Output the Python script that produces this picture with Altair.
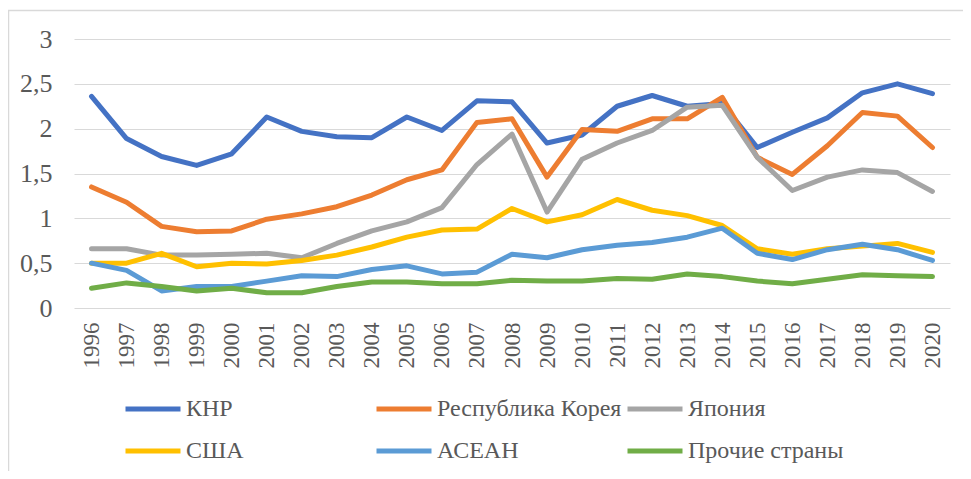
import altair as alt
import pandas as pd

years = [str(y) for y in range(1996, 2021)]
series_names = ["КНР", "Республика Корея", "Япония", "США", "АСЕАН", "Прочие страны"]
colors = ["#4472C4", "#ED7D31", "#A5A5A5", "#FFC000", "#5B9BD5", "#70AD47"]

knr = [2.36, 1.89, 1.69, 1.59, 1.72, 2.13, 1.97, 1.91, 1.90, 2.13, 1.98, 2.31, 2.30,
       1.84, 1.93, 2.25, 2.37, 2.25, 2.28, 1.79, 1.96, 2.12, 2.40, 2.50, 2.39]
korea = [1.35, 1.18, 0.91, 0.85, 0.86, 0.99, 1.05, 1.13, 1.26, 1.43, 1.54, 2.07, 2.11,
         1.46, 1.99, 1.97, 2.11, 2.11, 2.35, 1.68, 1.49, 1.81, 2.18, 2.14, 1.79]
japan = [0.66, 0.66, 0.59, 0.59, 0.60, 0.61, 0.56, 0.72, 0.86, 0.96, 1.12, 1.60, 1.94,
         1.07, 1.66, 1.84, 1.98, 2.24, 2.26, 1.68, 1.31, 1.46, 1.54, 1.51, 1.30]
usa = [0.50, 0.50, 0.61, 0.46, 0.50, 0.49, 0.53, 0.59, 0.68, 0.79, 0.87, 0.88, 1.11,
       0.96, 1.04, 1.21, 1.09, 1.03, 0.92, 0.66, 0.60, 0.66, 0.69, 0.72, 0.62]
asean = [0.50, 0.42, 0.19, 0.24, 0.24, 0.30, 0.36, 0.35, 0.43, 0.47, 0.38, 0.40, 0.60,
         0.56, 0.65, 0.70, 0.73, 0.79, 0.89, 0.61, 0.54, 0.65, 0.71, 0.65, 0.53]
other = [0.22, 0.28, 0.24, 0.19, 0.22, 0.17, 0.17, 0.24, 0.29, 0.29, 0.27, 0.27, 0.31,
         0.30, 0.30, 0.33, 0.32, 0.38, 0.35, 0.30, 0.27, 0.32, 0.37, 0.36, 0.35]

all_values = [knr, korea, japan, usa, asean, other]

rows = []
for order, (name, vals) in enumerate(zip(series_names, all_values)):
    for y, v in zip(years, vals):
        rows.append({"year": y, "value": v, "series": name, "order": order})
df = pd.DataFrame(rows)

FONT = "Liberation Serif"
TXT = "#595959"

lines = alt.Chart(df).mark_line(strokeWidth=5, strokeCap="round", strokeJoin="round").encode(
    x=alt.X("year:O", sort=years, scale=alt.Scale(padding=0.5),
            axis=alt.Axis(title=None, labelAngle=270, labelPadding=14, ticks=False, domain=False,
                          labelFont=FONT, labelFontSize=23, labelColor=TXT, grid=False)),
    y=alt.Y("value:Q", scale=alt.Scale(domain=[0, 3], nice=False),
            axis=alt.Axis(title=None, values=[0, 0.5, 1, 1.5, 2, 2.5, 3], ticks=False, domain=False,
                          labelFont=FONT, labelFontSize=26, labelColor=TXT, labelPadding=22,
                          gridColor="#d9d9d9", gridWidth=1.2,
                          labelExpr="replace(format(datum.value, '~g'), '.', ',')")),
    color=alt.Color("series:N", sort=series_names,
                    scale=alt.Scale(domain=series_names, range=colors),
                    legend=alt.Legend(title=None, orient="none", legendX=49, legendY=340,
                                      direction="horizontal", columns=3, gridAlign="all",
                                      symbolType="stroke", symbolSize=3025, symbolStrokeWidth=5,
                                      labelFont=FONT, labelFontSize=24, labelColor=TXT,
                                      labelOffset=3, columnPadding=-5, rowPadding=-13,
                                      labelLimit=400)),
    order=alt.Order("order:Q"),
    detail="series:N",
)

border = alt.Chart(pd.DataFrame({"a": [0]})).mark_rect(
    fill=None, stroke="#d9d9d9", strokeWidth=1.5
).encode(x=alt.value(-65.5), x2=alt.value(960), y=alt.value(-28.5), y2=alt.value(600))

chart = alt.layer(border, lines).properties(
    width=876, height=269,
    autosize=alt.AutoSizeParams(type="none"),
    padding={"left": 66, "top": 31, "right": 13, "bottom": 163},
).configure_view(stroke=None)

chart.save("out.html", embed_options={"renderer": "svg", "actions": False})
